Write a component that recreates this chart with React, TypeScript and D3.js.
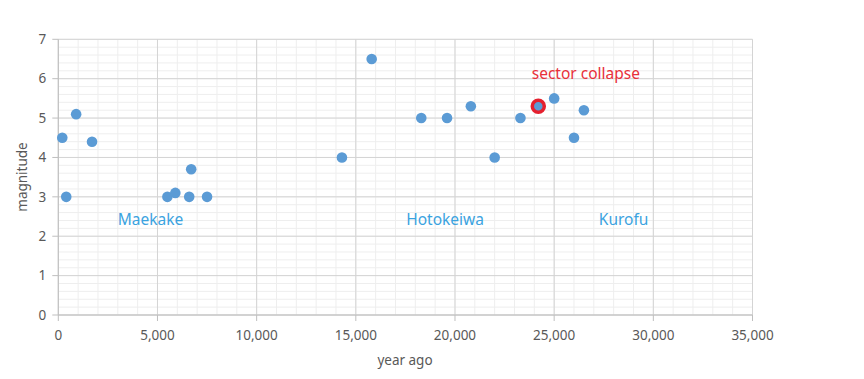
import React from "react";
import * as d3 from "d3";

const years = [200, 900, 1700, 400, 5500, 5900, 6700, 6600, 7500, 14300, 15800, 18300, 19600, 20800, 22000, 23300, 24200, 25000, 26000, 26500];
const magnitudes = [4.5, 5.1, 4.4, 3.0, 3.0, 3.1, 3.7, 3.0, 3.0, 4.0, 6.5, 5.0, 5.0, 5.3, 4.0, 5.0, 5.3, 5.5, 4.5, 5.2];
const highlightIndex = 16;
const xTicks = [0, 5000, 10000, 15000, 20000, 25000, 30000, 35000];
const yTicks = [0, 1, 2, 3, 4, 5, 6, 7];
const regionLabels = ["Maekake", "Hotokeiwa", "Kurofu"];
const regionX = [4650, 19500, 28500];
const regionY = [2.42, 2.42, 2.42];
const annotation = "sector collapse";
const annotationPos = [26600, 6.12];

export default function App() {
  const W = 864, H = 379;
  const x = d3.scaleLinear().domain([0, 35000]).range([58.3, 752.5]);
  const y = d3.scaleLinear().domain([0, 7]).range([315, 39.3]);
  const xMinor = d3.range(0, 35001, 1000);
  const yMinor = d3.range(0, 7.001, 0.2);
  const font = "'Noto Sans', sans-serif";
  const fmt = d3.format(",");
  return (
    <svg width={W} height={H} style={{ position: "absolute", left: 0, top: 0, background: "#fff" }} fontFamily={font}>
      <g>
        {xMinor.map((v) => (
          <line key={"xm" + v} x1={x(v)} x2={x(v)} y1={y(0)} y2={y(7)} stroke="#eeeeee" strokeWidth={1} />
        ))}
        {yMinor.map((v, i) => (
          <line key={"ym" + i} x1={x(0)} x2={x(35000)} y1={y(v)} y2={y(v)} stroke="#eeeeee" strokeWidth={1} />
        ))}
        {xTicks.map((v) => (
          <line key={"xM" + v} x1={x(v)} x2={x(v)} y1={y(0)} y2={y(7)} stroke="#d4d4d4" strokeWidth={1} />
        ))}
        {yTicks.map((v) => (
          <line key={"yM" + v} x1={x(0)} x2={x(35000)} y1={y(v)} y2={y(v)} stroke="#d4d4d4" strokeWidth={1} />
        ))}
      </g>
      <line x1={x(0)} x2={x(0)} y1={y(0)} y2={y(7)} stroke="#bfbfbf" />
      <line x1={x(0)} x2={x(35000)} y1={y(0)} y2={y(0)} stroke="#bfbfbf" />
      {yTicks.map((v) => (
        <g key={"yt" + v}>
          <line x1={x(0) - 6} x2={x(0)} y1={y(v)} y2={y(v)} stroke="#bfbfbf" />
          <text x={x(0) - 12} y={y(v)} dy="0.35em" textAnchor="end" fontSize={13.5} fill="#595959">{v}</text>
        </g>
      ))}
      {xTicks.map((v) => (
        <g key={"xt" + v}>
          <line x1={x(v)} x2={x(v)} y1={y(0)} y2={y(0) + 6} stroke="#bfbfbf" />
          <text x={x(v)} y={y(0) + 20} dy="0.35em" textAnchor="middle" fontSize={13.5} fill="#595959">{fmt(v)}</text>
        </g>
      ))}
      <text x={405} y={360} dy="0.35em" textAnchor="middle" fontSize={13.5} fill="#595959">year ago</text>
      <text transform={`translate(22,177) rotate(-90)`} dy="0.35em" textAnchor="middle" fontSize={13.5} fill="#595959">magnitude</text>
      {years.map((v, i) => (
        <circle key={"p" + i} cx={x(v)} cy={y(magnitudes[i])} r={5.3} fill="#5b9bd5" />
      ))}
      <circle cx={x(years[highlightIndex])} cy={y(magnitudes[highlightIndex])} r={6} fill="#5b9bd5" stroke="#e5202e" strokeWidth={3.5} />
      {regionLabels.map((t, i) => (
        <text key={t} x={x(regionX[i])} y={y(regionY[i])} dy="0.35em" textAnchor="middle" fontSize={15.5} fill="#3ba3df">{t}</text>
      ))}
      <text x={x(annotationPos[0])} y={y(annotationPos[1])} dy="0.35em" textAnchor="middle" fontSize={15.5} fill="#e8303a">{annotation}</text>
    </svg>
  );
}
